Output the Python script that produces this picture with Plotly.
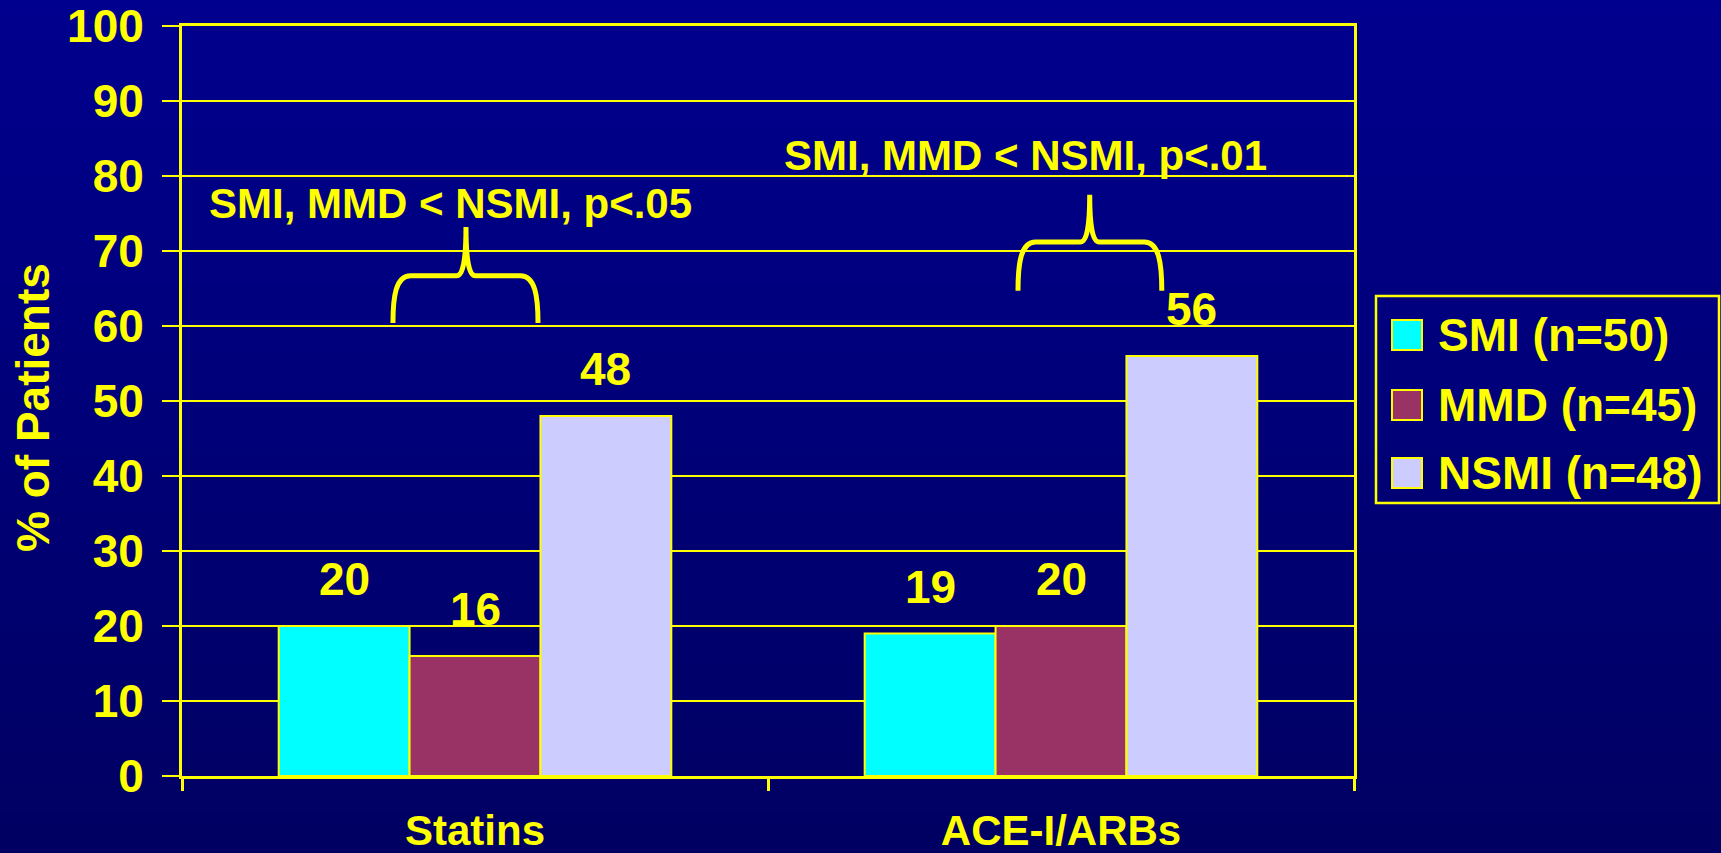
import plotly.graph_objects as go

# ---- data ----
categories = ["Statins", "ACE-I/ARBs"]
series_names = ["SMI (n=50)", "MMD (n=45)", "NSMI (n=48)"]
smi_values = [20, 19]
mmd_values = [16, 20]
nsmi_values = [48, 56]
y_ticks = [0, 10, 20, 30, 40, 50, 60, 70, 80, 90, 100]

# significance notes: (text, x centre, y centre) and brace geometry
notes = [
    ("SMI, MMD < NSMI, p<.05", -0.041, 76.3),
    ("SMI, MMD < NSMI, p<.01", 0.940, 82.7),
]
# (left x, right x, tip x, base y, shoulder y, tip y)
braces = [
    (-0.140, 0.1075, -0.0154, 60.4, 66.7, 73.2),
    (0.9266, 1.172, 1.049, 64.7, 71.2, 77.5),
]

# ---- style ----
YELLOW = "#FFFF00"
colors = ["#00FFFF", "#993366", "#CCCCFF"]
FONT = "Liberation Sans, Arial, Helvetica, sans-serif"
W, H = 1721, 853
M_L, M_R, M_T, M_B = 182, 367, 26, 77
BARGAP = 0.33

values = [smi_values, mmd_values, nsmi_values]

fig = go.Figure()
for name, vals, col in zip(series_names, values, colors):
    fig.add_trace(go.Bar(
        x=categories, y=vals, name=name,
        marker=dict(color=col, line=dict(color=YELLOW, width=2)),
        showlegend=False,
    ))

plot_w = W - M_L - M_R
plot_h = H - M_T - M_B
def px_x(px):
    return (px - M_L) / plot_w
def px_y(py):
    return (H - M_B - py) / plot_h

# value labels above each bar
n_series = len(values)
bar_w = (1 - BARGAP) / n_series
annotations = []
for j, vals in enumerate(values):
    for i, v in enumerate(vals):
        xc = i - (1 - BARGAP) / 2 + (j + 0.5) * bar_w
        annotations.append(dict(
            x=xc, y=v, xref="x", yref="y", text=str(v), showarrow=False,
            yanchor="middle", yshift=47,
            font=dict(family=FONT, size=46, color=YELLOW, weight="bold"),
        ))

for text, xc, yc in notes:
    annotations.append(dict(
        x=xc, y=yc, xref="x", yref="y", text=text, showarrow=False,
        xanchor="center", yanchor="middle",
        font=dict(family=FONT, size=42, color=YELLOW, weight="bold"),
    ))

# y-axis title
annotations.append(dict(
    x=px_x(33), y=px_y(408), xref="paper", yref="paper",
    text="% of Patients", textangle=-90, showarrow=False,
    xanchor="center", yanchor="middle",
    font=dict(family=FONT, size=46, color=YELLOW, weight="bold"),
))

shapes = []

# vertical background gradient, dark navy
n_bands = 60
top_rgb, bot_rgb = (0, 0, 142), (0, 0, 98)
for k in range(n_bands):
    t = (k + 0.5) / n_bands
    b = round(bot_rgb[2] + (top_rgb[2] - bot_rgb[2]) * t)
    py_bot = H - H * k / n_bands
    py_top = H - H * (k + 1) / n_bands
    if k == 0:
        py_bot += 40
    if k == n_bands - 1:
        py_top -= 40
    shapes.append(dict(
        type="rect", xref="paper", yref="paper",
        x0=px_x(-40), x1=px_x(W + 40), y0=px_y(py_bot), y1=px_y(py_top - 1),
        fillcolor=f"rgb(0,0,{b})", line=dict(width=0), layer="below",
    ))

# curly braces
def brace_path(xl, xr, xt, yb, ym, yt, cx=0.03, tx=0.016):
    return (
        f"M {xl},{yb} "
        f"C {xl},{ym - (ym - yb) * 0.45} {xl + cx * 0.15},{ym} {xl + cx},{ym} "
        f"L {xt - tx},{ym} "
        f"C {xt - tx * 0.3},{ym} {xt},{ym + (yt - ym) * 0.35} {xt},{yt} "
        f"C {xt},{ym + (yt - ym) * 0.35} {xt + tx * 0.3},{ym} {xt + tx},{ym} "
        f"L {xr - cx},{ym} "
        f"C {xr - cx * 0.15},{ym} {xr},{ym - (ym - yb) * 0.45} {xr},{yb}"
    )

for b in braces:
    shapes.append(dict(
        type="path", xref="x", yref="y", path=brace_path(*b),
        line=dict(color=YELLOW, width=5),
    ))

# legend box drawn in paper coordinates
shapes.append(dict(
    type="rect", xref="paper", yref="paper",
    x0=px_x(1376), x1=px_x(1719), y0=px_y(503), y1=px_y(296),
    line=dict(color=YELLOW, width=2.5), fillcolor="rgba(0,0,0,0)",
))
row_centres = [335, 405, 473]
for name, col, yc in zip(series_names, colors, row_centres):
    shapes.append(dict(
        type="rect", xref="paper", yref="paper",
        x0=px_x(1392), x1=px_x(1422), y0=px_y(yc + 15), y1=px_y(yc - 15),
        fillcolor=col, line=dict(color=YELLOW, width=2),
    ))
    annotations.append(dict(
        x=px_x(1436), y=px_y(yc), xref="paper", yref="paper", text=name,
        showarrow=False, xanchor="left", yanchor="middle",
        font=dict(family=FONT, size=46, color=YELLOW, weight="bold"),
    ))

fig.update_layout(
    width=W, height=H, autosize=False,
    margin=dict(l=M_L, r=M_R, t=M_T, b=M_B, pad=0, autoexpand=False),
    paper_bgcolor="#000078",
    plot_bgcolor="rgba(0,0,0,0)",
    barmode="group", bargap=BARGAP, bargroupgap=0,
    showlegend=False,
    shapes=shapes, annotations=annotations,
    font=dict(family=FONT, color=YELLOW),
    xaxis=dict(
        type="category", tickson="boundaries", automargin=False,
        ticks="outside", ticklen=12, tickwidth=3, tickcolor=YELLOW,
        showline=True, linecolor=YELLOW, linewidth=2.5, mirror=True,
        showgrid=False, zeroline=False,
        tickfont=dict(family=FONT, size=42, color=YELLOW, weight="bold"),
        ticklabelstandoff=16,
        range=[-0.5, 1.5],
    ),
    yaxis=dict(
        range=[0, 100], tickvals=y_ticks, automargin=False,
        ticks="outside", ticklen=17, tickwidth=2, tickcolor=YELLOW,
        showline=True, linecolor=YELLOW, linewidth=3, mirror=True,
        showgrid=True, gridcolor=YELLOW, gridwidth=2, zeroline=False,
        tickfont=dict(family=FONT, size=46, color=YELLOW, weight="bold"),
        ticklabelstandoff=9,
    ),
)

fig.write_html("out.html")
